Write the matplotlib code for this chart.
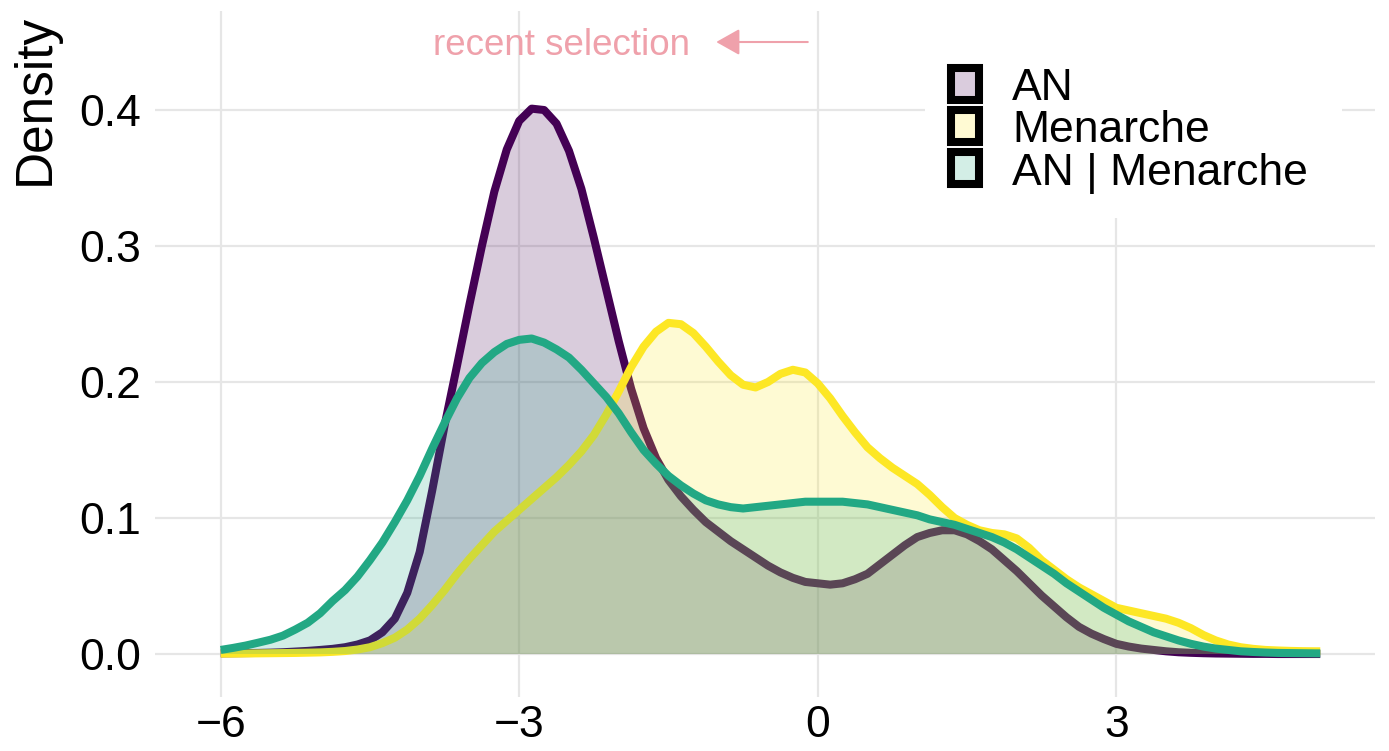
import matplotlib
matplotlib.use('Agg')
import matplotlib.pyplot as plt
from matplotlib.patches import Rectangle
from matplotlib.colors import to_rgba
import numpy as np

plt.rcParams['font.family'] = ['Liberation Sans', 'DejaVu Sans']

# values (density curves)
x_vals = [-6, -5.875, -5.75, -5.625, -5.5, -5.375, -5.25, -5.125,
          -5, -4.875, -4.75, -4.625, -4.5, -4.375, -4.25, -4.125,
          -4, -3.875, -3.75, -3.625, -3.5, -3.375, -3.25, -3.125,
          -3, -2.875, -2.75, -2.625, -2.5, -2.375, -2.25, -2.125,
          -2, -1.875, -1.75, -1.625, -1.5, -1.375, -1.25, -1.125,
          -1, -0.875, -0.75, -0.625, -0.5, -0.375, -0.25, -0.125,
          0, 0.125, 0.25, 0.375, 0.5, 0.625, 0.75, 0.875,
          1, 1.125, 1.25, 1.375, 1.5, 1.625, 1.75, 1.875,
          2, 2.125, 2.25, 2.375, 2.5, 2.625, 2.75, 2.875,
          3, 3.125, 3.25, 3.375, 3.5, 3.625, 3.75, 3.875,
          4, 4.125, 4.25, 4.375, 4.5, 4.625, 4.75, 4.875,
          5, 5.05]

an_density = [0.0005, 0.0006, 0.0007, 0.0008, 0.001, 0.0013, 0.0018, 0.0023,
              0.003, 0.0038, 0.005, 0.007, 0.010, 0.016, 0.026, 0.045,
              0.075, 0.120, 0.168, 0.212, 0.257, 0.300, 0.340, 0.371,
              0.392, 0.401, 0.400, 0.390, 0.370, 0.342, 0.306, 0.268,
              0.230, 0.195, 0.166, 0.144, 0.128, 0.116, 0.106, 0.097,
              0.090, 0.083, 0.077, 0.071, 0.065, 0.060, 0.056, 0.053,
              0.052, 0.051, 0.052, 0.055, 0.059, 0.066, 0.073, 0.080,
              0.086, 0.089, 0.091, 0.091, 0.088, 0.083, 0.077, 0.069,
              0.061, 0.052, 0.043, 0.035, 0.027, 0.020, 0.015, 0.011,
              0.0075, 0.0055, 0.004, 0.003, 0.002, 0.0013, 0.0009, 0.0006,
              0.0004, 0.0003, 0.0002, 0.0001, 0.0001, 0.0, 0.0, 0.0,
              0.0, 0.0]

menarche_density = [0.0003, 0.0003, 0.0004, 0.0005, 0.0006, 0.0007, 0.0008, 0.001,
                    0.0012, 0.0016, 0.0022, 0.0033, 0.005, 0.008, 0.012, 0.018,
                    0.026, 0.036, 0.047, 0.059, 0.070, 0.080, 0.090, 0.098,
                    0.106, 0.114, 0.122, 0.130, 0.139, 0.149, 0.161, 0.176,
                    0.193, 0.211, 0.226, 0.237, 0.2435, 0.2425, 0.236, 0.226,
                    0.215, 0.205, 0.198, 0.196, 0.200, 0.206, 0.209, 0.207,
                    0.199, 0.188, 0.175, 0.163, 0.152, 0.144, 0.137, 0.131,
                    0.125, 0.117, 0.108, 0.100, 0.095, 0.091, 0.089, 0.088,
                    0.085, 0.078, 0.069, 0.062, 0.055, 0.049, 0.044, 0.039,
                    0.034, 0.032, 0.030, 0.028, 0.026, 0.023, 0.019, 0.014,
                    0.010, 0.007, 0.005, 0.0038, 0.003, 0.0026, 0.0023, 0.0021,
                    0.002, 0.002]

an_menarche_density = [0.003, 0.0045, 0.0062, 0.0083, 0.0105, 0.0135, 0.018, 0.023,
                       0.030, 0.039, 0.047, 0.057, 0.069, 0.082, 0.097, 0.113,
                       0.131, 0.151, 0.170, 0.188, 0.203, 0.214, 0.222, 0.228,
                       0.231, 0.232, 0.229, 0.224, 0.218, 0.209, 0.199, 0.189,
                       0.177, 0.163, 0.150, 0.140, 0.131, 0.124, 0.118, 0.113,
                       0.110, 0.108, 0.107, 0.108, 0.109, 0.110, 0.111, 0.112,
                       0.112, 0.112, 0.112, 0.111, 0.110, 0.108, 0.106, 0.104,
                       0.102, 0.099, 0.097, 0.095, 0.092, 0.089, 0.086, 0.082,
                       0.077, 0.071, 0.065, 0.059, 0.052, 0.046, 0.040, 0.034,
                       0.029, 0.024, 0.020, 0.016, 0.013, 0.010, 0.0075, 0.0055,
                       0.004, 0.003, 0.002, 0.0015, 0.0011, 0.0008, 0.0007, 0.0006,
                       0.0005, 0.0005]

labels = ['AN', 'Menarche', 'AN | Menarche']
colors = ['#440154', '#FDE725', '#22A884']
series = [an_density, menarche_density, an_menarche_density]

W, H = 1389, 751
fig = plt.figure(figsize=(W / 100, H / 100), dpi=100)
ax = fig.add_axes([155 / W, 54 / H, (1375 - 155) / W, (740 - 54) / H])

x = np.array(x_vals)
# each group: fill then outline, stacked in order (like ggplot)
for i, (vals, col) in enumerate(zip(series, colors)):
    ax.fill_between(x, 0, vals, facecolor=col, alpha=0.2, linewidth=0, zorder=2 + 2 * i)
    ax.plot(x, vals, color=col, lw=5.8, solid_capstyle='butt', solid_joinstyle='round',
            zorder=3 + 2 * i)

ax.set_xlim(-6.66, 5.6)
ax.set_ylim(-0.0316, 0.4728)
ax.set_xticks([-6, -3, 0, 3])
ax.set_yticks([0.0, 0.1, 0.2, 0.3, 0.4])
ax.set_yticklabels(['0.0', '0.1', '0.2', '0.3', '0.4'])
ax.tick_params(axis='both', length=0, labelsize=32, colors='black')
ax.tick_params(axis='y', pad=10)
ax.tick_params(axis='x', pad=6)
ax.grid(True, color='#E6E6E6', lw=1.6, zorder=0)
ax.set_axisbelow(True)
for s in ax.spines.values():
    s.set_visible(False)

# annotation
pink = '#EFA1AB'
ax.text(-2.58, 0.4404, 'recent selection', color=pink, fontsize=26.5, ha='center', va='baseline')
ax.annotate('', xy=(-1.02, 0.45), xytext=(-0.1, 0.45),
            arrowprops=dict(arrowstyle='-|>,head_length=0.8,head_width=0.45', color=pink,
                            lw=1.5, mutation_scale=18, shrinkA=0, shrinkB=0))

fig.text(11 / W, 1 - 99 / H, 'Density', fontsize=37, rotation=90, ha='left', va='center')

# legend drawn by hand to match the ggplot layout
fig.patches.append(Rectangle((925 / W, 1 - 218 / H), (1342 - 925) / W, 218 / H,
                             transform=fig.transFigure, facecolor='white', edgecolor='none', zorder=5))
for i, (lab, col) in enumerate(zip(labels, colors)):
    cy = 84 + 42 * i
    r, g, b, _ = to_rgba(col)
    fill = (1 - 0.2 * (1 - r), 1 - 0.2 * (1 - g), 1 - 0.2 * (1 - b))
    fig.patches.append(Rectangle((951 / W, 1 - (cy + 16) / H), 28 / W, 32 / H,
                                 transform=fig.transFigure, facecolor=fill, edgecolor='black',
                                 linewidth=5.8, zorder=6))
    fig.text(1012 / W, 1 - (cy + 16.5) / H, lab, fontsize=32, ha='left', va='baseline', zorder=7)

fig.savefig('out.png', dpi=100)
